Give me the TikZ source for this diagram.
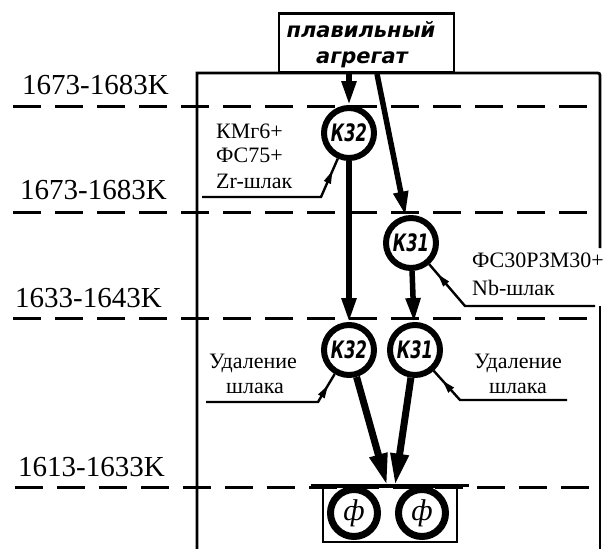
\documentclass[tikz,border=0pt]{standalone}
\usepackage{fontspec}
\setmainfont{Liberation Serif}
\newfontfamily\hand{DejaVu Sans}
\usetikzlibrary{arrows.meta,decorations.markings}
\begin{document}
\begin{tikzpicture}[x=1pt,y=-1pt,
  frame/.style={line width=2.8pt},
  level/.style={line width=3pt, dash pattern=on 28pt off 14pt},
  temp/.style={font=\fontsize{29}{30}\selectfont, anchor=base west, inner sep=0},
  note/.style={font=\fontsize{22}{24}\selectfont, inner sep=0},
  handtext/.style={font=\fontsize{21}{21}\selectfont\hand\bfseries\itshape, inner sep=0, anchor=base},
  ladle/.style={circle, draw, line width=6pt, minimum size=50pt, inner sep=0,
    font=\fontsize{24}{24}\selectfont\hand\bfseries\itshape},
  flow/.style={line width=5.5pt, -{Triangle[length=24pt,width=14pt]}},
  pour/.style={line width=7pt, -{Triangle[length=32pt,width=17pt]}},
  leader/.style={line width=2.4pt,
    decoration={markings, mark=at position -13pt with {\arrow{Triangle[length=13pt,width=7pt]}}},
    postaction={decorate}},
  mould/.style={circle, draw, line width=7pt, minimum size=47pt, inner sep=0,
    font=\fontsize{30}{30}\selectfont\itshape}
]
\useasboundingbox (0,0) rectangle (606,549);

% frame
\draw[frame] (197,549) -- (197,73) -- (595,73) .. controls (600,73) .. (600,78) -- (600,248);
\draw[frame] (600,306) -- (600,549);

% temperature levels
\draw[level] (13,106) -- (598,106);
\draw[level] (13,212) -- (598,212);
\draw[level] (13,318) -- (600,318);
\draw[level] (15,487) -- (598,487);

\node[temp] (t1) at (22,94) {1673-1683K};
\node[temp] (t2) at (20,199) {1673-1683K};
\node[temp] (t3) at (15,307) {1633-1643K};
\node[temp] (t4) at (18,476) {1613-1633K};

% melting unit
\node[draw, frame, fill=white, minimum width=175pt, minimum height=59pt, inner sep=0] (agg) at (366.5,43) {};
\node[handtext] (agg1) at (361,37) {плавильный};
\node[handtext] (agg2) at (362,63) {агрегат};

% ladles
\node[ladle] (k32a) at (349,133) {\scalebox{0.68}[1]{К32}};
\node[ladle] (k31a) at (411,243) {\scalebox{0.68}[1]{К31}};
\node[ladle] (k32b) at (349,350) {\scalebox{0.68}[1]{К32}};
\node[ladle] (k31b) at (415,350) {\scalebox{0.68}[1]{К31}};

% moulds
\node[draw, frame, minimum width=134pt, minimum height=55pt, inner sep=0] (fbox) at (390,514.5) {};
\draw[frame] ([xshift=-11pt]fbox.north west) -- ([xshift=11pt]fbox.north east);
\node[mould] (f1) at (354,513) {ф};
\node[mould] (f2) at (422,513) {ф};

% flows
\draw[flow] (agg.south -| k32a) -- (k32a);
\draw[flow] ([xshift=10.5pt]agg.south) -- (k31a);
\draw[flow] (k32a) -- (k32b);
\draw[flow] (k31a) -- (k31b);
\coordinate (p1) at ([xshift=-3pt]fbox.north);
\coordinate (p2) at ([xshift=5pt]fbox.north);
\draw[pour] (k32b) -- (p1);
\draw[pour] (k31b) -- (p2);

% additions and slag removal
\node[note, anchor=base west] (a1) at (216,138) {КМг6+};
\node[note, anchor=base west] (a2) at (216,162) {ФС75+};
\node[note, anchor=base west] (a3) at (216,188) {Zr-шлак};
\coordinate (zrA) at (202,197);
\coordinate (zrB) at (321,197);
\draw[leader] (zrA) -- (zrB) -- (k32a);

\node[note, anchor=base west] (b1) at (472,267) {ФС30РЗМ30+};
\node[note, anchor=base west] (b2) at (472,295) {Nb-шлак};
\coordinate (nbA) at (595,306);
\coordinate (nbB) at (465,306);
\draw[leader] (nbA) -- (nbB) -- (k31a);

\node[note, anchor=base] (c1) at (253,368) {Удаление};
\node[note, anchor=base] (c2) at (255,393) {шлака};
\coordinate (udA) at (206,402);
\coordinate (udB) at (318,402);
\draw[leader] (udA) -- (udB) -- (k32b);

\node[note, anchor=base] (d1) at (518,368) {Удаление};
\node[note, anchor=base] (d2) at (518,393) {шлака};
\coordinate (urA) at (567,400);
\coordinate (urB) at (460,400);
\draw[leader] (urA) -- (urB) -- (k31b);
\end{tikzpicture}
\end{document}
